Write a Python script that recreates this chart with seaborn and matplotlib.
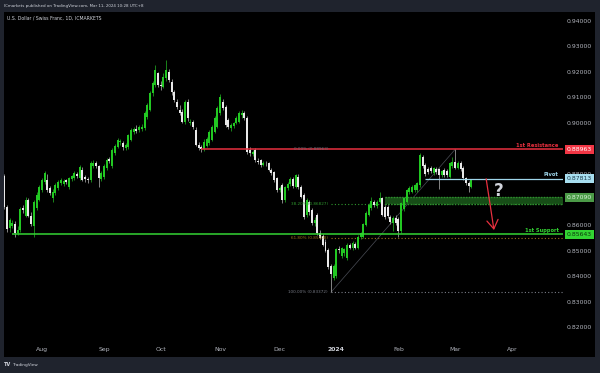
import numpy as np
import pandas as pd
import matplotlib
matplotlib.use("Agg")
import matplotlib.pyplot as plt
import matplotlib.transforms as mtransforms
from matplotlib.patches import Rectangle
import seaborn as sns

# ------------------------------------------------------------------ data
dates = pd.bdate_range("2023-07-12", "2024-03-11")   # daily bars (weekdays)

# prices in pips (1e-4)
open_pips = [
    8791, 8672, 8589, 8598, 8605, 8569, 8581, 8667, 8637, 8700, 8637, 8595, 8667, 8700,           # Jul
    8737, 8770, 8776, 8745, 8705, 8725, 8745, 8765, 8762, 8775, 8750, 8780, 8783, 8800, 8783,     # Aug
    8816, 8790, 8782, 8777, 8830, 8845, 8830, 8780,
    8790, 8823, 8858, 8831, 8881, 8907, 8925, 8920, 8900, 8904, 8933, 8966, 8978, 8972, 8975,     # Sep
    8979, 9024, 9050, 9116, 9148, 9194,
    9150, 9141, 9174, 9200, 9161, 9122, 9083, 9050, 9044, 9005, 9083, 9000, 9003, 8972, 8913,     # Oct
    8905, 8897, 8910, 8920, 8933, 8966, 8985,
    9037, 9080, 9063, 9011, 8979, 8988, 9000, 9005, 9030, 9040, 9018, 8894, 8878, 8894, 8850,     # Nov
    8854, 8836, 8845, 8842, 8816, 8806, 8784,
    8738, 8757, 8698, 8745, 8760, 8782, 8750, 8790, 8750, 8718, 8640, 8692, 8659, 8607, 8640,     # Dec
    8569, 8558, 8535, 8503, 8440, 8392,
    8400, 8508, 8478, 8490, 8470, 8522, 8510, 8528, 8510, 8552, 8555, 8600, 8640, 8666, 8692,     # Jan
    8675, 8692, 8705, 8670, 8672, 8633, 8610, 8628,
    8625, 8576, 8665, 8692, 8729, 8731, 8737, 8737, 8757, 8868, 8835, 8820, 8822, 8805, 8820,     # Feb
    8818, 8795, 8815, 8810, 8790, 8830,
    8848, 8825, 8842, 8822, 8783, 8765, 8750,                                                     # Mar
]
high_pips = [
    8800, 8680, 8628, 8622, 8618, 8596, 8672, 8680, 8712, 8708, 8650, 8700, 8728, 8758,
    8785, 8812, 8800, 8752, 8740, 8765, 8776, 8784, 8780, 8782, 8790, 8798, 8812, 8808, 8835,
    8828, 8795, 8790, 8850, 8855, 8852, 8836, 8812,
    8838, 8862, 8866, 8900, 8918, 8940, 8938, 8928, 8920, 8958, 8980, 8985, 8990, 8990, 8995,
    9045, 9078, 9125, 9162, 9225, 9200,
    9165, 9195, 9244, 9212, 9170, 9130, 9095, 9068, 9055, 9090, 9092, 9015, 9012, 8985, 8925,
    8915, 8935, 8945, 8972, 8992, 9025, 9065,
    9112, 9095, 9070, 9018, 8998, 9005, 9025, 9045, 9050, 9045, 9025, 8905, 8892, 8900, 8862,
    8860, 8850, 8852, 8848, 8822, 8812, 8790,
    8752, 8765, 8755, 8768, 8790, 8788, 8802, 8800, 8758, 8725, 8705, 8700, 8668, 8630, 8648,
    8580, 8565, 8545, 8510, 8448, 8448,
    8512, 8520, 8515, 8512, 8530, 8530, 8538, 8535, 8562, 8575, 8610, 8655, 8685, 8710, 8700,
    8698, 8728, 8712, 8678, 8680, 8640, 8635, 8638,
    8632, 8690, 8712, 8742, 8752, 8758, 8762, 8770, 8881, 8875, 8842, 8828, 8830, 8828, 8828,
    8825, 8815, 8822, 8818, 8848, 8865,
    8896, 8852, 8850, 8830, 8790, 8772, 8782,
]
low_pips = [
    8665, 8575, 8572, 8590, 8553, 8560, 8575, 8648, 8630, 8632, 8595, 8555, 8660, 8695,
    8730, 8762, 8730, 8718, 8690, 8718, 8738, 8758, 8755, 8760, 8742, 8772, 8778, 8785, 8776,
    8772, 8770, 8765, 8770, 8822, 8825, 8748, 8772,
    8782, 8815, 8845, 8825, 8875, 8900, 8915, 8895, 8892, 8898, 8928, 8958, 8960, 8965, 8968,
    8972, 9015, 9045, 9105, 9140, 9140,
    9128, 9135, 9165, 9158, 9110, 9080, 9055, 9030, 8998, 8995, 9008, 8992, 8978, 8908, 8895,
    8888, 8890, 8905, 8915, 8928, 8960, 8980,
    9030, 9050, 8985, 8975, 8970, 8980, 8995, 9000, 9020, 9010, 8880, 8872, 8870, 8848, 8840,
    8828, 8830, 8832, 8810, 8798, 8770, 8730,
    8728, 8685, 8690, 8738, 8752, 8745, 8745, 8740, 8705, 8625, 8630, 8640, 8600, 8595, 8562,
    8545, 8518, 8495, 8430, 8337, 8385,
    8395, 8490, 8470, 8480, 8462, 8505, 8502, 8505, 8505, 8545, 8550, 8595, 8635, 8660, 8670,
    8668, 8685, 8635, 8625, 8628, 8605, 8578, 8600,
    8553, 8570, 8655, 8685, 8722, 8725, 8730, 8730, 8748, 8825, 8792, 8800, 8805, 8798, 8800,
    8740, 8788, 8790, 8788, 8785, 8825,
    8820, 8818, 8812, 8778, 8758, 8731, 8745,
]
close_pips = [
    8672, 8585, 8620, 8608, 8569, 8581, 8665, 8660, 8700, 8637, 8605, 8692, 8717, 8750,
    8776, 8804, 8737, 8726, 8731, 8757, 8770, 8775, 8772, 8768, 8783, 8792, 8803, 8792, 8826,
    8777, 8780, 8775, 8842, 8843, 8830, 8783, 8805,
    8831, 8855, 8852, 8894, 8910, 8933, 8930, 8904, 8912, 8952, 8972, 8976, 8968, 8982, 8985,
    9037, 9070, 9116, 9155, 9208, 9148,
    9146, 9180, 9207, 9168, 9122, 9089, 9063, 9038, 9005, 9083, 9018, 9003, 8985, 8913, 8902,
    8898, 8926, 8935, 8966, 8985, 9018, 9058,
    9102, 9058, 8991, 8985, 8991, 8998, 9018, 9037, 9040, 9018, 8887, 8882, 8886, 8854, 8846,
    8835, 8845, 8842, 8816, 8803, 8777, 8738,
    8745, 8698, 8750, 8760, 8782, 8752, 8795, 8748, 8711, 8633, 8698, 8650, 8607, 8622, 8568,
    8550, 8523, 8500, 8438, 8408, 8440,
    8505, 8504, 8511, 8505, 8522, 8512, 8530, 8512, 8555, 8569, 8605, 8648, 8679, 8695, 8678,
    8690, 8706, 8640, 8632, 8634, 8613, 8628, 8610,
    8578, 8685, 8705, 8737, 8745, 8750, 8757, 8765, 8874, 8830, 8800, 8806, 8810, 8822, 8806,
    8795, 8810, 8795, 8795, 8842, 8848,
    8825, 8845, 8818, 8783, 8765, 8752, 8777,
]

resistance = 0.88963
pivot = 0.87813
zone_top, zone_bottom = 0.87090, 0.86827
support = 0.85643
fib_labels = ["0.00% (0.88963)", "38.20% (0.86827)", "61.80% (0.85508)", "100.00% (0.83372)"]
fib_prices = [0.88963, 0.86827, 0.85508, 0.83372]
price_ticks = [0.82, 0.83, 0.84, 0.85, 0.86, 0.88, 0.90, 0.91, 0.92, 0.93, 0.94]
month_labels = ["Aug", "Sep", "Oct", "Nov", "Dec", "2024", "Feb", "Mar", "Apr"]
month_starts = ["2023-08-01", "2023-09-01", "2023-10-02", "2023-11-01", "2023-12-01",
                "2024-01-01", "2024-02-01", "2024-03-01", "2024-04-01"]

# drawing anchors (dates)
res_start = "2023-10-23"
sup_start = "2023-07-17"
piv_start = "2024-02-15"
zone_start = "2024-01-25"
fib_low_date, fib_high_date = "2023-12-28", "2024-03-01"
arrow_from, arrow_to = ("2024-03-18", 0.87813), ("2024-03-21", 0.8581)
question_at = ("2024-03-25", 0.8734)

# ------------------------------------------------------------------ style
sns.set_theme(style="dark")
plt.rcParams["font.family"] = ["DejaVu Sans"]

FRAME = "#1f232d"
TXT = "#b2b5be"
TXT2 = "#d1d4dc"
GREEN = "#22c822"
WHITE = "#e8e8e8"
RED = "#e8303f"
PIV = "#9fd6ea"
SUP = "#33d433"

W, H = 600, 373
fig = plt.figure(figsize=(W / 100, H / 100), dpi=100, facecolor=FRAME)

def fx(px):
    return px / W

def fy(py):
    return 1 - py / H

# black chart panel (background axes)
bg = fig.add_axes([fx(4), fy(357), fx(595) - fx(4), fy(12) - fy(357)], zorder=0)
bg.set_facecolor("black")
bg.set_xticks([])
bg.set_yticks([])
for s in bg.spines.values():
    s.set_visible(False)

ax = fig.add_axes([fx(4), fy(342), fx(563) - fx(4), fy(12) - fy(342)], zorder=1)
ax.set_facecolor("black")
for s in ax.spines.values():
    s.set_visible(False)

ext = pd.bdate_range("2023-07-12", "2024-04-30")
def xi(d):
    return ext.get_loc(pd.Timestamp(d))

o = np.array(open_pips) / 1e4
h = np.array(high_pips) / 1e4
l = np.array(low_pips) / 1e4
c = np.array(close_pips) / 1e4
x = np.arange(len(dates))
up = c >= o
body_col = np.where(up, GREEN, WHITE)
wick_col = np.where(up, "#1f9a1f", "#9a9a9a")
ax.vlines(x, l, h, colors=wick_col, lw=0.6, zorder=3)
ax.bar(x, np.maximum(np.abs(c - o), 0.00012), bottom=np.minimum(o, c), width=0.74,
       color=body_col, linewidth=0, zorder=4)

XMAX = 206.96
ax.set_xlim(-0.07, XMAX)
ax.set_ylim(0.81431, 0.94336)

blend = mtransforms.blended_transform_factory(ax.transAxes, ax.transData)

# ---- fib retracement
fx0 = xi(fib_low_date)
fib_cols = ["#6a6d78", "#2f9a2f", "#a07418", "#787b86"]
for lab, p, col in zip(fib_labels, fib_prices, fib_cols):
    if p != fib_prices[0]:
        ax.hlines(p, fx0, XMAX, colors=col, lw=0.8, linestyles=(0, (1, 2)), zorder=2)
    ax.annotate(lab, xy=(fx0, p), xytext=(-2, 0), textcoords="offset points",
                ha="right", va="center", fontsize=3.0, color=col, zorder=6)
ax.plot([fx0, xi(fib_high_date)], [fib_prices[3], fib_prices[0]], color="#4a4d56",
        lw=0.5, zorder=2)

# ---- green zone
zx0 = xi(zone_start)
ax.add_patch(Rectangle((zx0, zone_bottom), XMAX - zx0, zone_top - zone_bottom,
                       fc="#174d17", ec="none", zorder=2.5))
for p in (zone_top, zone_bottom):
    ax.hlines(p, zx0, XMAX, colors="#2f8f2f", lw=1.0, linestyles=(0, (1, 1)), zorder=2.6)

# ---- horizontal levels
ax.hlines(resistance, xi(res_start), XMAX, colors=RED, lw=1.1, zorder=5)
ax.hlines(support, xi(sup_start), XMAX, colors=SUP, lw=1.1, zorder=5)
ax.hlines(pivot, xi(piv_start), XMAX, colors=PIV, lw=0.9, zorder=5)

for txt, p, col in [("1st Resistance", resistance, RED), ("Pivot", pivot, PIV),
                    ("1st Support", support, SUP)]:
    ax.annotate(txt, xy=(1.0, p), xycoords=blend, xytext=(-3, 1.2), textcoords="offset points",
                ha="right", va="bottom", fontsize=3.7, color=col, fontweight="bold", zorder=6)

# ---- arrow & question mark
ax.annotate("", xy=(xi(arrow_to[0]) + 0.4, arrow_to[1]), xytext=(xi(arrow_from[0]) + 0.5, arrow_from[1]),
            arrowprops=dict(arrowstyle="->,head_length=0.7,head_width=0.45", color="#e8303f",
                            lw=0.9, shrinkA=0, shrinkB=0, mutation_scale=9), zorder=7)
ax.text(xi(question_at[0]), question_at[1], "?", fontsize=12, fontweight="bold",
        color="#d1d4dc", ha="center", va="center", zorder=7)

# ---- axes ticks
ax.yaxis.tick_right()
ax.set_yticks(price_ticks)
ax.set_yticklabels([f"{t:.5f}" for t in price_ticks])
ax.tick_params(axis="y", length=0, pad=2.7, labelsize=4.4, labelcolor=TXT)
ax.set_xticks([xi(d) for d in month_starts])
ax.set_xticklabels(month_labels)
ax.tick_params(axis="x", length=0, pad=3.8, labelsize=4.4, labelcolor=TXT)
for t in ax.get_xticklabels():
    if t.get_text() == "2024":
        t.set_fontweight("bold")
        t.set_color(TXT2)
ax.grid(False)

# ---- price tags
for p, txt, fc, tc in [(resistance, "0.88963", "#f23645", "#ffffff"),
                       (pivot, "0.87813", "#a8dff0", "#1d3b4a"),
                       (zone_top, "0.87090", "#4b9a47", "#d8f2d8"),
                       (support, "0.85643", "#33d433", "#0c3a0c")]:
    ax.text(1.0 + 3.6 / 559, p, txt, transform=blend, ha="left", va="center", fontsize=4.4,
            color=tc, zorder=20, clip_on=False,
            bbox=dict(boxstyle="square,pad=0.32", fc=fc, ec="none"))

# ---- header / title / footer
fig.text(fx(4), fy(6), "ICmarkets published on TradingView.com, Mar 11, 2024 10:28 UTC+8",
         fontsize=2.9, color=TXT2, ha="left", va="center")
fig.text(fx(7), fy(17.5), "U.S. Dollar / Swiss Franc, 1D, ICMARKETS",
         fontsize=3.3, color=TXT2, ha="left", va="center")
fig.text(fx(4), fy(365), "TV", fontsize=3.6, color=TXT2, ha="left", va="center",
         fontweight="bold")
fig.text(fx(13), fy(365), "TradingView", fontsize=3.1, color=TXT2, ha="left", va="center")

fig.savefig("out.png", dpi=100, facecolor=FRAME)
